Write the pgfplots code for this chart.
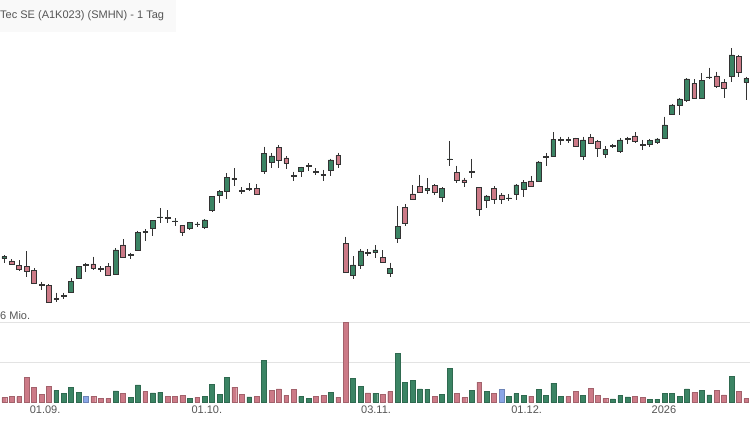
\documentclass[border=0pt]{standalone}
\usepackage{pgfplots}
\pgfplotsset{compat=1.18}
\usepackage{pgfplotstable}
\usepackage{fontspec}
\setmainfont{Liberation Sans}
\definecolor{upg}{HTML}{3B8464}
\definecolor{dnr}{HTML}{CC7A87}
\definecolor{flb}{HTML}{8AA6E6}
\definecolor{wick}{HTML}{333333}
\definecolor{txt}{HTML}{555555}

\pgfplotstableread{
i o h l c
0 29.13 29.50 28.67 29.33
1 28.90 29.07 28.47 28.57
2 28.47 29.00 27.93 28.07
3 28.33 29.90 27.27 27.87
4 27.93 28.17 26.60 26.67
5 26.46 26.83 26.00 26.54
6 26.50 26.60 24.67 24.73
7 25.06 25.73 24.77 25.14
8 25.36 25.73 25.07 25.44
9 25.73 27.17 25.67 26.83
10 27.20 28.40 27.07 28.33
11 28.46 28.73 27.80 28.54
12 28.60 29.33 28.00 28.20
13 28.06 28.40 27.80 28.14
14 28.33 28.67 27.40 27.50
15 27.60 30.17 27.50 30.00
16 30.50 31.10 29.17 29.27
17 29.46 29.73 29.13 29.54
18 30.00 31.93 29.93 31.77
19 31.79 32.07 30.93 31.87
20 32.13 33.00 31.40 32.93
21 33.23 34.17 32.67 33.31
22 33.19 34.00 32.67 33.27
23 32.83 33.17 32.40 32.91
24 32.47 32.50 31.40 31.77
25 32.13 32.83 32.00 32.77
26 32.53 32.83 32.27 32.61
27 32.23 33.07 32.07 33.00
28 33.93 35.40 33.80 35.33
29 35.50 36.00 34.67 35.83
30 35.83 37.67 35.07 37.27
31 37.02 38.17 36.40 37.18
32 35.86 36.27 35.60 35.94
33 36.02 36.67 35.93 36.18
34 36.17 36.60 35.47 35.53
35 37.83 40.33 37.60 39.67
36 38.77 39.67 38.23 39.40
37 40.23 40.50 38.23 39.00
38 39.20 39.40 38.13 38.67
39 37.36 37.83 36.93 37.44
40 37.83 38.33 37.27 38.27
41 38.36 38.67 37.90 38.44
42 37.79 38.17 37.50 37.87
43 37.49 38.00 36.90 37.57
44 37.93 39.13 37.40 39.00
45 39.47 39.73 38.20 38.57
46 30.67 31.33 27.67 27.77
47 27.50 29.40 27.07 28.50
48 28.50 30.10 28.10 29.90
49 29.69 30.07 29.40 29.77
50 29.73 30.50 29.23 30.00
51 29.27 30.00 28.67 28.77
52 27.67 28.73 27.27 28.17
53 31.17 34.40 30.67 32.33
54 34.23 34.57 32.40 32.67
55 35.60 36.50 35.00 35.07
56 36.33 37.50 35.67 35.80
57 35.95 37.17 35.57 36.15
58 36.43 36.60 35.50 35.73
59 35.27 36.27 34.83 36.17
60 39.03 40.90 38.43 39.11
61 37.77 38.43 36.67 37.00
62 37.00 37.23 36.33 36.73
63 37.79 39.10 37.17 37.87
64 36.23 36.27 33.40 34.07
65 35.00 35.47 34.17 35.40
66 36.17 36.40 34.60 35.07
67 35.50 35.67 34.60 35.07
68 35.13 35.57 34.93 35.21
69 35.60 36.60 35.00 36.50
70 36.07 37.00 35.33 36.73
71 36.90 37.40 36.27 36.33
72 36.83 38.87 36.77 38.80
73 39.29 39.67 38.43 39.37
74 39.33 41.77 39.27 41.07
75 40.96 41.33 40.50 41.04
76 40.96 41.33 40.73 41.04
77 41.13 41.23 40.27 40.40
78 39.33 41.33 39.00 41.00
79 41.27 41.57 40.57 40.67
80 40.83 41.00 39.33 40.17
81 39.60 40.40 39.20 40.07
82 40.36 40.60 40.17 40.44
83 39.83 41.17 39.73 41.00
84 41.06 41.33 40.57 41.14
85 41.40 41.77 40.67 40.83
86 40.46 41.00 40.00 40.54
87 40.57 41.10 40.33 40.93
88 40.73 41.17 40.60 41.10
89 41.17 43.33 41.07 42.50
90 43.60 44.60 43.50 44.50
91 44.43 45.17 43.50 45.10
92 45.00 47.17 44.83 47.10
93 46.67 47.07 45.07 45.13
94 45.13 47.67 45.07 46.93
95 47.23 48.23 47.07 47.31
96 47.40 47.83 46.23 46.33
97 46.73 47.07 45.17 46.17
98 47.40 50.17 46.83 49.50
99 49.33 49.50 47.33 47.77
100 46.77 47.33 45.00 47.17
}\candles

\pgfplotstableread{
i g r b
0 nan 0.35 nan
1 nan 0.45 nan
2 nan 0.43 nan
3 nan 1.85 nan
4 nan 1.10 nan
5 nan 0.60 nan
6 nan 1.20 nan
7 0.90 nan nan
8 0.68 nan nan
9 1.10 nan nan
10 0.75 nan nan
11 nan nan 0.47
12 nan 0.45 nan
13 nan 0.30 nan
14 nan 0.30 nan
15 0.85 nan nan
16 nan 0.65 nan
17 0.35 nan nan
18 1.30 nan nan
19 nan 0.80 nan
20 0.70 nan nan
21 0.75 nan nan
22 nan 0.45 nan
23 nan 0.45 nan
24 nan 0.50 nan
25 0.30 nan nan
26 nan 0.38 nan
27 0.45 nan nan
28 1.35 nan nan
29 0.60 nan nan
30 1.85 nan nan
31 nan 1.13 nan
32 nan 0.60 nan
33 0.40 nan nan
34 nan 0.45 nan
35 3.13 nan nan
36 nan 0.88 nan
37 nan 1.00 nan
38 nan 0.53 nan
39 nan 0.95 nan
40 0.45 nan nan
41 0.28 nan nan
42 nan 0.43 nan
43 nan 0.50 nan
44 0.77 nan nan
45 nan 0.38 nan
46 nan 6.00 nan
47 1.78 nan nan
48 1.22 nan nan
49 nan 0.70 nan
50 0.68 nan nan
51 nan 0.60 nan
52 nan 0.80 nan
53 3.68 nan nan
54 1.52 nan nan
55 1.63 nan nan
56 1.00 nan nan
57 0.98 nan nan
58 nan 0.43 nan
59 0.60 nan nan
60 2.53 nan nan
61 nan 0.65 nan
62 nan 0.35 nan
63 0.92 nan nan
64 nan 1.52 nan
65 0.83 nan nan
66 nan 0.65 nan
67 nan nan 0.98
68 0.43 nan nan
69 0.65 nan nan
70 0.53 nan nan
71 nan 0.47 nan
72 0.95 nan nan
73 0.53 nan nan
74 1.43 nan nan
75 0.45 nan nan
76 nan 0.45 nan
77 nan 0.83 nan
78 0.50 nan nan
79 nan 1.07 nan
80 nan 0.50 nan
81 nan 0.30 nan
82 0.25 nan nan
83 0.50 nan nan
84 0.40 nan nan
85 nan 0.43 nan
86 nan 0.35 nan
87 0.23 nan nan
88 0.23 nan nan
89 0.65 nan nan
90 0.68 nan nan
91 0.47 nan nan
92 1.00 nan nan
93 nan 0.73 nan
94 0.92 nan nan
95 0.55 nan nan
96 nan 0.90 nan
97 nan 0.55 nan
98 1.97 nan nan
99 nan 0.80 nan
100 nan 0.28 nan
}\volumes

\begin{document}
\begin{tikzpicture}
\fill[white] (0,0) rectangle (750pt,421pt);
\useasboundingbox (0,0) rectangle (750pt,421pt);
\fill[gray!5] (0,389pt) rectangle (176pt,421pt);
\node[anchor=west, inner sep=0pt, text=txt, font=\fontsize{11}{13}\selectfont] at (0pt,405pt) {Tec SE (A1K023) (SMHN) - 1 Tag};

% wicks
\begin{axis}[at={(0pt,111pt)}, anchor=south west, scale only axis,
  width=750pt, height=280pt, xmin=-0.58, xmax=100.5, ymin=24, ymax=52, hide axis]
\addplot[draw=none, mark=none,
  error bars/.cd, y dir=minus, y explicit, error mark=none,
  error bar style={draw=wick, line width=0.9pt}]
  table[x=i, y=h, y error expr=\thisrow{h}-\thisrow{l}] {\candles};
\end{axis}

% bodies
\begin{axis}[at={(0pt,111pt)}, anchor=south west, scale only axis,
  width=750pt, height=280pt, xmin=-0.58, xmax=100.5, ymin=24, ymax=52, hide axis,
  ybar stacked, bar width=4.8pt]
\addplot[draw=none, fill=none] table[x=i, y expr={min(\thisrow{o},\thisrow{c})}] {\candles};
\addplot[fill=upg, draw=wick, line width=0.6pt] table[x=i, y expr={max(\thisrow{c}-\thisrow{o},0)}] {\candles};
\addplot[fill=dnr, draw=wick, line width=0.6pt] table[x=i, y expr={max(\thisrow{o}-\thisrow{c},0)}] {\candles};
\end{axis}

% volume
\begin{axis}[at={(0pt,18.7pt)}, anchor=south west, scale only axis,
  width=750pt, height=80pt, xmin=-0.58, xmax=100.5, ymin=0, ymax=6,
  ybar, bar shift=0pt, bar width=4.8pt, clip=false,
  axis line style={draw=none}, major tick length=0pt,
  ytick={3,6}, yticklabels={}, ymajorgrids,
  grid style={draw=gray!22, line width=0.8pt},
  xtick={5.5,27.3,50.1,70.4,88.9},
  xticklabels={01.09.,01.10.,03.11.,01.12.,2026},
  xticklabel style={text=txt, font=\fontsize{11}{13}\selectfont}]
\addplot[fill=upg, draw=upg!80!black, line width=0.4pt] table[x=i, y=g] {\volumes};
\addplot[fill=dnr, draw=dnr!80!black, line width=0.4pt] table[x=i, y=r] {\volumes};
\addplot[fill=flb, draw=flb!80!black, line width=0.4pt] table[x=i, y=b] {\volumes};
\node[anchor=base west, inner sep=0pt, text=txt, font=\fontsize{11}{13}\selectfont] at ([yshift=3pt]rel axis cs:0,1) {6 Mio.};
\end{axis}
\end{tikzpicture}
\end{document}
